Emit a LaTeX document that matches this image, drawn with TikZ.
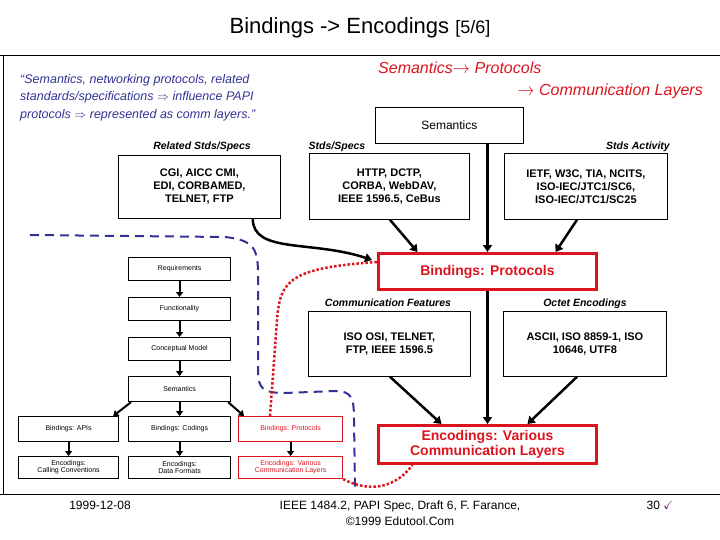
\documentclass[tikz,border=0pt]{standalone}
\usepackage{fontspec}
\setmainfont{Liberation Sans}
\usepackage{amssymb}
\usetikzlibrary{arrows.meta}
\definecolor{pred}{RGB}{220,20,30}
\definecolor{pblue}{RGB}{50,50,150}
\tikzset{
  box/.style={draw,line width=0.8pt,align=center,inner sep=0pt,anchor=north west,font=\bfseries\fontsize{11}{13}\selectfont},
  rbox/.style={draw=pred,line width=3pt,align=center,inner sep=0pt,anchor=north west,text=pred,font=\bfseries\fontsize{14}{14}\selectfont},
  sbox/.style={draw,line width=1.2pt,align=center,inner sep=0pt,anchor=north west,font=\fontsize{7}{7}\selectfont},
  srbox/.style={sbox,draw=pred,text=pred},
  lab/.style={font=\bfseries\itshape\fontsize{10.5}{12}\selectfont},
  arr/.style={line width=2.5pt,-{Triangle[length=7pt,width=9pt]}},
  sarr/.style={line width=2pt,-{Triangle[length=5pt,width=7pt]}},
}
\begin{document}
\begin{tikzpicture}[x=1pt,y=-1pt]
\useasboundingbox (0,0) rectangle (720,540);
\node (title) at (360,28) {\fontsize{22}{22}\selectfont Bindings -> Encodings {\fontsize{18}{18}\selectfont[5/6]}};
\draw[line width=0.8pt] (0,55) -- (720,55);
\draw[line width=0.8pt] (3,55) -- (3,494);
\draw[line width=0.8pt] (0,494) -- (720,494);
% quote
\node[anchor=north west,align=left,text=pblue,font=\itshape\fontsize{12.5}{17.5}\selectfont,inner sep=0pt] (quote) at (20,74)
 {``Semantics, networking protocols, related\\standards/specifications $\Rightarrow$ influence PAPI\\protocols $\Rightarrow$ represented as comm layers.''};
\node[anchor=west,text=pred,font=\itshape\fontsize{16}{16}\selectfont,inner sep=0pt] (h1) at (378,68) {Semantics$\rightarrow$ Protocols};
\node[anchor=east,text=pred,font=\itshape\fontsize{16}{16}\selectfont,inner sep=0pt] (h2) at (703,91) {$\rightarrow$ Communication Layers};
% top boxes
\node[box,font=\fontsize{12}{12}\selectfont,minimum width=148pt,minimum height=36pt] (sem) at (375,107) {Semantics};
\node[lab] (l1) at (202,147) {Related Stds/Specs};
\node[lab] (l2) at (337,147) {Stds/Specs};
\node[lab] (l3) at (638,147) {Stds Activity};
\node[box,minimum width=162pt,minimum height=63pt] (cgi) at (118,155) {CGI, AICC CMI,\\EDI, CORBAMED,\\TELNET, FTP};
\node[box,minimum width=160pt,minimum height=66pt] (http) at (309,153) {HTTP, DCTP,\\CORBA, WebDAV,\\IEEE 1596.5, CeBus};
\node[box,minimum width=163pt,minimum height=66pt] (ietf) at (504,153) {IETF, W3C, TIA, NCITS,\\ISO-IEC/JTC1/SC6,\\ISO-IEC/JTC1/SC25};
\node[rbox,minimum width=218pt,minimum height=36pt] (bp) at (377,252) {Bindings: Protocols};
\node[lab] (l4) at (388,303) {Communication Features};
\node[lab] (l5) at (585,304) {Octet Encodings};
\node[box,minimum width=162pt,minimum height=65pt] (iso) at (308,311) {ISO OSI, TELNET,\\FTP, IEEE 1596.5};
\node[box,minimum width=163pt,minimum height=65pt] (ascii) at (503,311) {ASCII, ISO 8859-1, ISO\\10646, UTF8};
\node[rbox,minimum width=218pt,minimum height=38pt,font=\bfseries\fontsize{14}{15}\selectfont] (ev) at (377,424) {Encodings: Various\\Communication Layers};
\draw[arr] (sem.south -| bp.north) -- (bp.north);
\draw[arr] (http.south west)++(81,0) -- ([xshift=-70pt]bp.north);
\draw[arr] (ietf.south west)++(73,0) -- ([xshift=68pt]bp.north);
\draw[arr] ([xshift=-28pt]cgi.south east) .. controls +(0,35) and +(-60,-20) .. (372,260) ;
\draw[arr] (bp.south) -- (bp.south |- ev.north);
\draw[arr] ([xshift=82pt]iso.south west) -- ([xshift=-46pt]ev.north);
\draw[arr] ([xshift=74pt]ascii.south west) -- ([xshift=40pt]ev.north);
% left flow
\node[sbox,minimum width=102pt,minimum height=23pt] (req) at (128,257) {Requirements};
\node[sbox,minimum width=102pt,minimum height=23pt] (fun) at (128,297) {Functionality};
\node[sbox,minimum width=102pt,minimum height=23pt] (cm) at (128,337) {Conceptual Model};
\node[sbox,minimum width=102pt,minimum height=25pt] (s2) at (128,376) {Semantics};
\node[sbox,minimum width=100pt,minimum height=25pt] (bapi) at (18,416) {Bindings: APIs};
\node[sbox,minimum width=102pt,minimum height=25pt] (bcod) at (128,416) {Bindings: Codings};
\node[srbox,minimum width=104pt,minimum height=25pt] (bpro) at (238,416) {Bindings: Protocols};
\node[sbox,minimum width=100pt,minimum height=22pt] (ecc) at (18,456) {Encodings:\\Calling Conventions};
\node[sbox,minimum width=102pt,minimum height=22pt] (edf) at (128,456) {Encodings:\\Data Formats};
\node[srbox,minimum width=104pt,minimum height=22pt] (evc) at (238,456) {Encodings: Various\\Communication Layers};
\draw[sarr] (req) -- (fun);
\draw[sarr] (fun) -- (cm);
\draw[sarr] (cm) -- (s2);
\draw[sarr] (s2) -- (bcod);
\draw[sarr] ([xshift=3pt]s2.south west) -- ([xshift=-6pt]bapi.north east);
\draw[sarr] ([xshift=-3pt]s2.south east) -- ([xshift=6pt]bpro.north west);
\draw[sarr] (bapi) -- (ecc);
\draw[sarr] (bcod) -- (edf);
\draw[sarr] (bpro) -- (evc);
% dashed / dotted outlines
\coordinate (d0) at (30,235);
\coordinate (d1) at (355,488);
\draw[pblue,line width=2pt,dash pattern=on 9pt off 6pt] (d0) -- (225,237) .. controls (255,240) and (258,250) .. (258,275) -- (258,370) .. controls (258,388) and (262,393) .. (285,393) -- (335,391) .. controls (352,391) and (354,398) .. (354,420) -- (d1);
\draw[pred,line width=2.5pt,dotted] (bpro.north west)++(32,0) -- (277,320) .. controls (280,280) and (290,268) .. (bp.west |- 0,262);
\draw[pred,line width=2.5pt,dotted] (evc.south east) .. controls (360,488) and (390,495) .. ([xshift=-75pt]ev.south);
% footer
\node[font=\fontsize{12}{12}\selectfont] (date) at (100,505) {1999-12-08};
\node[align=center,font=\fontsize{12}{16}\selectfont] (foot) at (400,513) {IEEE 1484.2, PAPI Spec, Draft 6, F. Farance,\\\textcopyright1999 Edutool.Com};
\node[font=\fontsize{12}{12}\selectfont] (pg) at (660,505) {30 \textcolor{violet}{$\checkmark$}};
\end{tikzpicture}
\end{document}
